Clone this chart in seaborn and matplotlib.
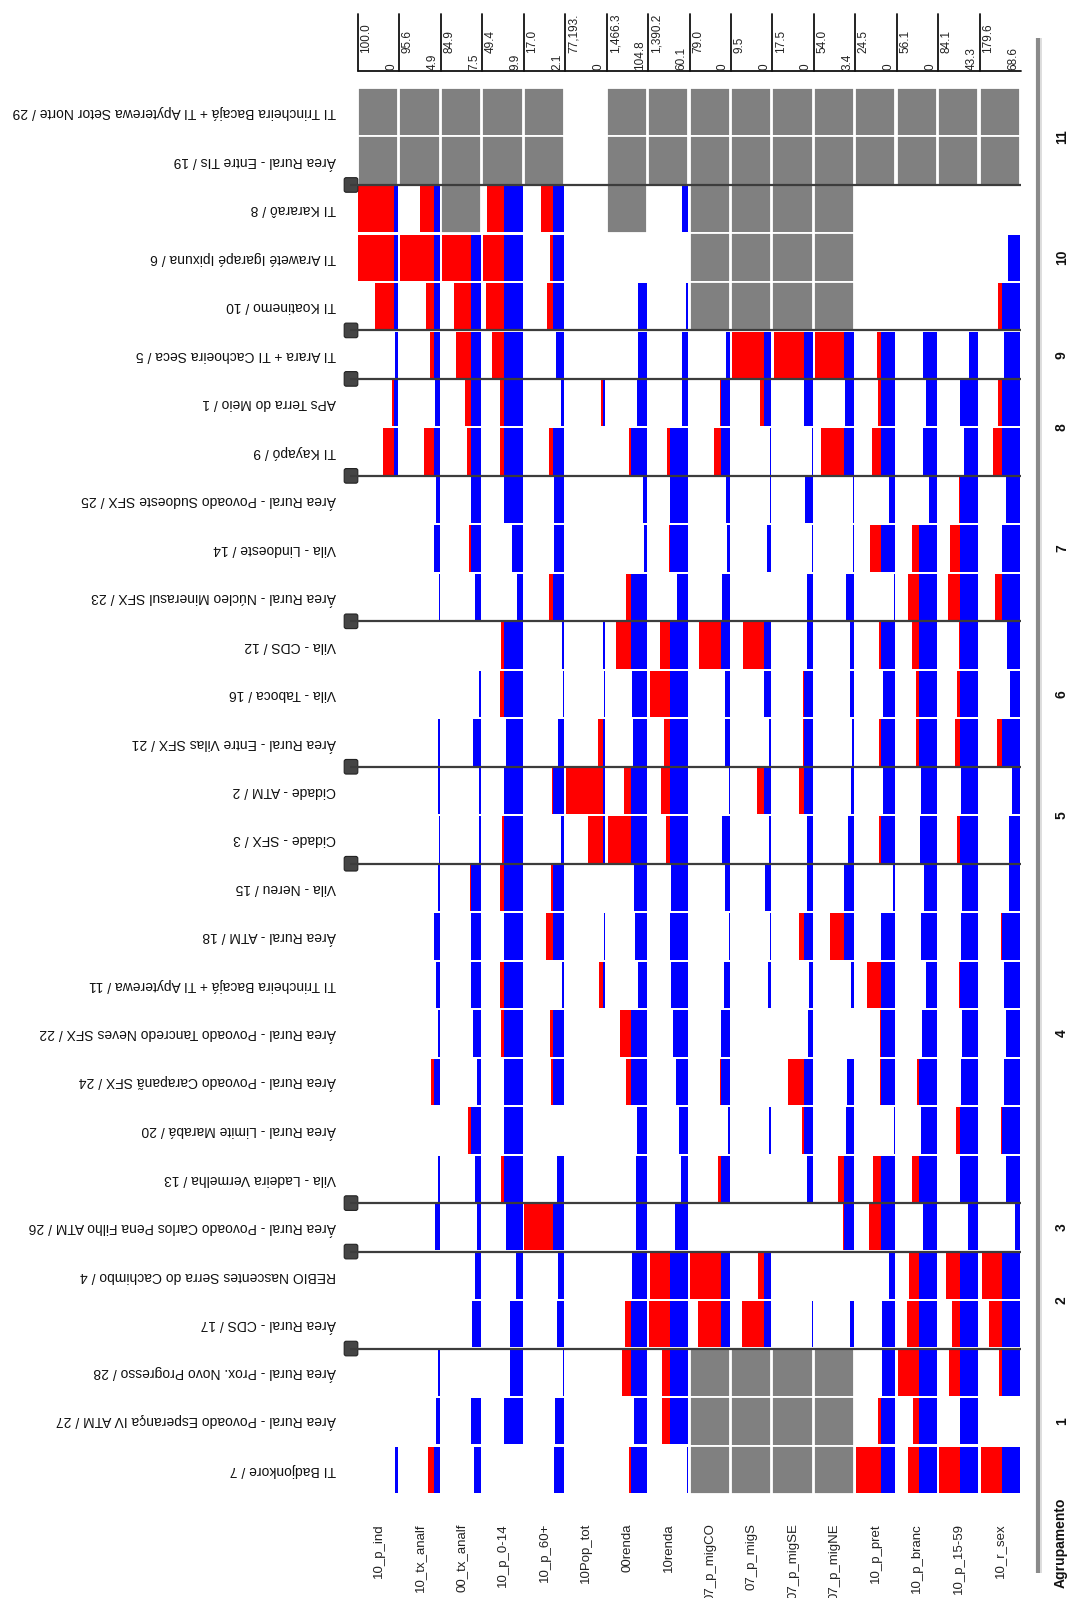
import numpy as np
import pandas as pd
import matplotlib
matplotlib.use("Agg")
import matplotlib.pyplot as plt
from matplotlib.patches import FancyBboxPatch
import seaborn as sns

nan = np.nan

# ---------------- data ----------------
rows = [
    "TI Trincheira Bacajá + TI Apyterewa Setor Norte / 29",
    "Área Rural - Entre TIs / 19",
    "TI Kararaô / 8",
    "TI Araweté Igarapé Ipixuna / 6",
    "TI Koatinemo / 10",
    "TI Arara + TI Cachoeira Seca / 5",
    "APs Terra do Meio / 1",
    "TI Kayapó / 9",
    "Área Rural - Povoado Sudoeste SFX / 25",
    "Vila - Lindoeste / 14",
    "Área Rural - Núcleo Minerasul SFX / 23",
    "Vila - CDS / 12",
    "Vila - Taboca / 16",
    "Área Rural - Entre Vilas SFX / 21",
    "Cidade - ATM / 2",
    "Cidade - SFX / 3",
    "Vila - Nereu / 15",
    "Área Rural - ATM / 18",
    "TI Trincheira Bacajá + TI Apyterewa / 11",
    "Área Rural - Povoado Tancredo Neves SFX / 22",
    "Área Rural - Povoado Carapanã SFX / 24",
    "Área Rural - Limite Marabá / 20",
    "Vila - Ladeira Vermelha / 13",
    "Área Rural - Povoado Carlos Pena Filho ATM / 26",
    "REBIO Nascentes Serra do Cachimbo / 4",
    "Área Rural - CDS / 17",
    "Área Rural - Prox. Novo Progresso / 28",
    "Área Rural - Povoado Esperança IV ATM / 27",
    "TI Badjonkore / 7",
]
row_group = [11, 11, 10, 10, 10, 9, 8, 8, 7, 7, 7, 6, 6, 6, 5, 5,
             4, 4, 4, 4, 4, 4, 4, 3, 2, 2, 1, 1, 1]

variables = ["10_p_ind", "10_tx_analf", "00_tx_analf", "10_p_0-14", "10_p_60+",
             "10Pop_tot", "00renda", "10renda", "07_p_migCO", "07_p_migS",
             "07_p_migSE", "07_p_migNE", "10_p_pret", "10_p_branc",
             "10_p_15-59", "10_r_sex"]
col_max_labels = ["100.0", "95.6", "84.9", "49.4", "17.0", "77,193.", "1,466.3",
                  "1,390.2", "79.0", "9.5", "17.5", "54.0", "24.5", "56.1",
                  "84.1", "179.6"]
col_min_labels = ["0", "4.9", "7.5", "9.9", "2.1", "0", "104.8", "60.1", "0",
                  "0", "0", "3.4", "0", "0", "43.3", "68.6"]

# column means, in % of the column range (min -> max)
col_mean = [10, 15, 25, 47, 27, 5, 39, 45, 22, 18, 21, 24, 35, 45, 46, 44]

# values per variable, in % of the column range (NaN = missing)
p_ind = [nan, nan, 99, 99, 58, 8, 16, 38, 0, 0, 0, 0, 0, 0, 0, 0, 0, 0, 1, 0,
         0, 0, 0, 0, 0, 0, 0, 0, 8]
tx_analf10 = [nan, nan, 49, 98, 34, 25, 12, 38, 10, 14, 1, 0, 0, 5, 5, 2, 5, 14,
              9, 4, 22, 0, 5, 11, 0, 0, 5, 9, 30]
tx_analf00 = [nan, nan, nan, 98, 68, 62, 41, 35, 25, 29, 15, 0, 5, 19, 5, 5, 28,
              24, 24, 19, 9, 32, 14, 11, 14, 22, 0, 26, 18]
p_0_14 = [nan, nan, 88, 98, 92, 76, 57, 57, 47, 26, 15, 53, 55, 41, 47, 51, 55,
          47, 55, 53, 47, 47, 54, 42, 16, 32, 30, 47, 0]
p_60 = [nan, nan, 56, 34, 41, 19, 8, 37, 24, 25, 37, 5, 3, 15, 30, 8, 32, 45, 5,
        35, 33, 0, 18, 99, 16, 18, 2, 23, 24]
pop_tot = [0, 0, 0, 0, 0, 0, 12, 0, 0, 1, 0, 6, 4, 19, 99, 43, 0, 4, 16, 0, 0,
           0, 0, 0, 0, 0, 0, 0, 0]
renda00 = [nan, nan, nan, 0, 23, 23, 24, 44, 10, 6, 53, 76, 38, 35, 57, 97, 32,
           30, 23, 67, 53, 24, 28, 28, 38, 54, 63, 32, 44]
renda10 = [nan, nan, 15, 0, 5, 16, 16, 53, 46, 48, 28, 71, 94, 61, 69, 56, 43,
           46, 43, 37, 30, 22, 19, 34, 95, 97, 66, 65, 4]
mig_co = [nan, nan, nan, nan, nan, 9, 24, 40, 9, 6, 20, 76, 12, 11, 3, 19, 13, 1,
          15, 22, 24, 4, 28, 0, 98, 78, nan, nan, nan]
mig_s = [nan, nan, nan, nan, nan, 98, 29, 2, 2, 10, 0, 71, 19, 5, 35, 5, 15, 3,
         9, 0, 0, 5, 0, 0, 32, 73, nan, nan, nan]
mig_se = [nan, nan, nan, nan, nan, 97, 22, 1, 18, 2, 14, 14, 24, 24, 34, 13, 13,
          34, 8, 11, 62, 26, 14, 0, 0, 2, nan, nan, nan]
mig_ne = [nan, nan, nan, nan, nan, 96, 22, 83, 2, 3, 19, 9, 9, 5, 7, 15, 25, 61,
          8, 0, 17, 20, 40, 27, 0, 11, nan, nan, nan]
p_pret = [nan, nan, 0, 0, 1, 46, 44, 58, 17, 63, 3, 42, 30, 40, 30, 41, 5, 35,
          71, 38, 39, 4, 57, 66, 17, 33, 33, 44, 97]
p_branc = [nan, nan, 0, 0, 1, 34, 27, 34, 20, 63, 72, 61, 53, 51, 40, 42, 32, 40,
           27, 37, 49, 40, 63, 34, 70, 74, 97, 59, 72]
p_15_59 = [nan, nan, 0, 0, 1, 23, 45, 35, 48, 70, 75, 48, 52, 59, 44, 52, 40, 42,
           48, 41, 44, 55, 46, 25, 81, 65, 73, 46, 97]
r_sex = [nan, nan, 0, 29, 53, 39, 55, 66, 35, 44, 61, 33, 24, 56, 20, 27, 26, 46,
         39, 34, 39, 47, 35, 12, 94, 76, 51, 0, 96]

series = [p_ind, tx_analf10, tx_analf00, p_0_14, p_60, pop_tot, renda00,
          renda10, mig_co, mig_s, mig_se, mig_ne, p_pret, p_branc, p_15_59, r_sex]

# ---------------- style ----------------
sns.set_style("white")
plt.rcParams["font.family"] = ["Liberation Sans", "DejaVu Sans"]

W, H = 1084, 1598
fig = plt.figure(figsize=(W / 100, H / 100), dpi=100)

X0, X1 = 358.0, 1021.0
Y0, Y1 = 88.0, 1494.0
ncol = len(variables)
nrow = len(rows)
cw = (X1 - X0) / ncol
rh = (Y1 - Y0) / nrow

RED, BLUE, GRAY = "#ff0000", "#0000ff", "#808080"

for k, (vals, m) in enumerate(zip(series, col_mean)):
    ax = fig.add_axes([(X0 + k * cw) / W, 1 - Y1 / H, cw / W, (Y1 - Y0) / H])
    df = pd.DataFrame({"row": rows, "v": vals})
    miss = df[df["v"].isna()].assign(v=100.0)
    have = df[df["v"].notna() & (df["v"] > 0)].copy()
    have["blue"] = np.minimum(have["v"], m)
    if len(miss):
        sns.barplot(data=miss, x="v", y="row", order=rows, orient="h",
                    color=GRAY, saturation=1, width=1.0, errorbar=None,
                    edgecolor="white", linewidth=1.3, ax=ax)
    if len(have):
        sns.barplot(data=have, x="v", y="row", order=rows, orient="h",
                    color=RED, saturation=1, width=0.955, errorbar=None,
                    linewidth=0, ax=ax)
        sns.barplot(data=have, x="blue", y="row", order=rows, orient="h",
                    color=BLUE, saturation=1, width=0.955, errorbar=None,
                    linewidth=0, ax=ax)
    ax.set_xlim(100, -3)
    ax.set_ylim(nrow - 0.5, -0.5)
    ax.axis("off")

# ---------------- overlay (annotations) ----------------
ov = fig.add_axes([0, 0, 1, 1])
ov.set_xlim(0, W)
ov.set_ylim(H, 0)
ov.axis("off")
ov.patch.set_alpha(0)

# row labels (upside down)
for i, lab in enumerate(rows):
    yc = Y0 + (i + 0.5) * rh
    ov.text(336, yc, lab, rotation=180, ha="right", va="center",
            fontsize=10, color="#111111")

# group separators with handles
bounds = [i for i in range(1, nrow) if row_group[i] != row_group[i - 1]]
for b in bounds:
    yb = Y0 + b * rh
    ov.plot([350, X1], [yb, yb], color="#3c3c3c", lw=1.6, solid_capstyle="butt")
    ov.add_patch(FancyBboxPatch((345, yb - 6.5), 12, 13,
                                boxstyle="round,pad=0.8,rounding_size=2",
                                fc="#454545", ec="#222222", lw=0.8))

# group numbers on the right
for g in sorted(set(row_group)):
    idx = [i for i, gg in enumerate(row_group) if gg == g]
    yc = Y0 + (min(idx) + max(idx) + 1) / 2 * rh
    ov.text(1062, yc, str(g), rotation=90, ha="center", va="center",
            fontsize=10, fontweight="bold", color="#111111")

# right separator line
ov.plot([1038, 1038], [38, 1573], color="#8a8a8a", lw=3, solid_capstyle="butt")
ov.plot([1040.5, 1040.5], [38, 1573], color="#d8d8d8", lw=1.2, solid_capstyle="butt")
ov.text(1061, 1498, "Agrupamento", rotation=90, ha="center", va="top",
        fontsize=10, fontweight="bold", color="#111111")

# header with max/min per column
HT, HB = 14, 71
ov.plot([X0, X1], [HB, HB], color="#111111", lw=1.3)
for k in range(ncol):
    xl = X0 + k * cw
    ov.plot([xl, xl], [HT, HB], color="#111111", lw=1.3)
    ov.text(xl + 2.5, 53, col_max_labels[k], rotation=90, ha="left",
            va="bottom", fontsize=8.5, color="#222222")
    ov.text(xl + cw - 2, 69.5, col_min_labels[k], rotation=90, ha="right",
            va="bottom", fontsize=8.5, color="#222222")

# bottom variable labels
for k, v in enumerate(variables):
    xc = X0 + (k + 0.5) * cw
    ov.text(xc, 1523, v, rotation=90, ha="center", va="top",
            fontsize=9.5, color="#222222")

fig.savefig("out.png", dpi=100)
